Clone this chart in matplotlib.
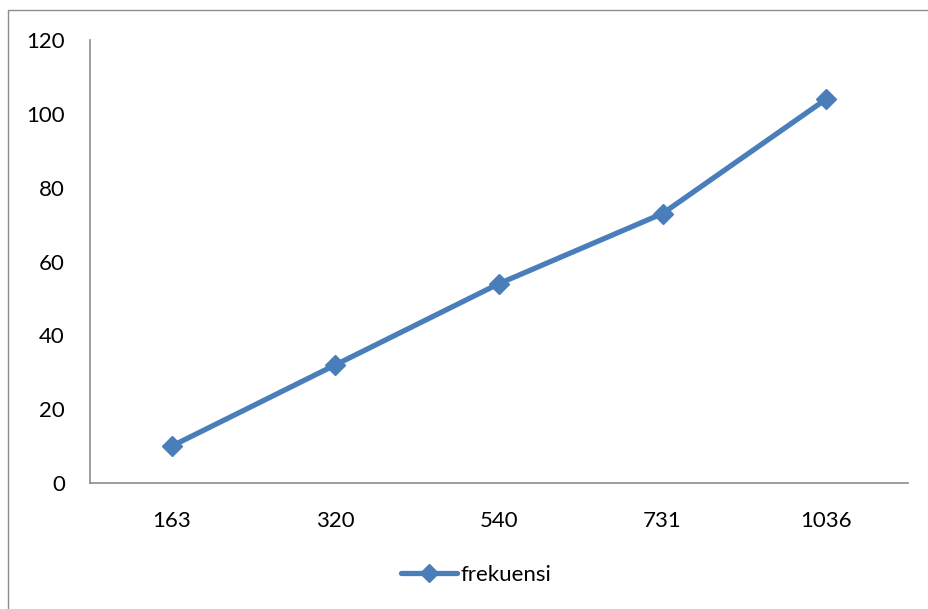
import matplotlib
matplotlib.use("Agg")
import matplotlib.pyplot as plt
from matplotlib.patches import Rectangle

categories = ["163", "320", "540", "731", "1036"]
frekuensi = [10, 32, 54, 73, 104]
y_ticks = [0, 20, 40, 60, 80, 100, 120]

plt.rcParams["font.family"] = ["Lato", "DejaVu Sans"]

W, H = 929, 609
fig = plt.figure(figsize=(W / 100, H / 100), dpi=100)

# outer chart-area frame (runs off the right and bottom edges)
fig.patches.append(Rectangle((8 / W, -0.05), 1.2, 1 - 10 / H + 0.05,
                             transform=fig.transFigure, fill=False,
                             edgecolor="#8c8c8c", linewidth=1.0))

ax = fig.add_axes([90 / W, 1 - 483 / H, (908 - 90) / W, (483 - 40) / H])
x = list(range(len(categories)))
line_color = "#4A7EBB"
ax.plot(x, frekuensi, color=line_color, linewidth=3.8, marker="D",
        markersize=10, markerfacecolor=line_color, markeredgecolor=line_color,
        label="frekuensi", solid_capstyle="round")

ax.set_xlim(-0.5, len(categories) - 0.5)
ax.set_ylim(0, 120)
ax.set_xticks(x)
ax.set_xticklabels(categories)
ax.set_yticks(y_ticks)
ax.tick_params(axis="both", length=0, labelsize=16, colors="black")
ax.tick_params(axis="x", pad=20)
ax.tick_params(axis="y", pad=18)

for s in ("top", "right"):
    ax.spines[s].set_visible(False)
for s in ("left", "bottom"):
    ax.spines[s].set_color("#8c8c8c")
    ax.spines[s].set_linewidth(1.2)

leg = fig.legend(loc="center", bbox_to_anchor=(476 / W, 1 - 575 / H),
                 frameon=False, fontsize=16, handlelength=2.5,
                 handletextpad=0.15, markerscale=0.9)

fig.savefig("out.png", dpi=100)
